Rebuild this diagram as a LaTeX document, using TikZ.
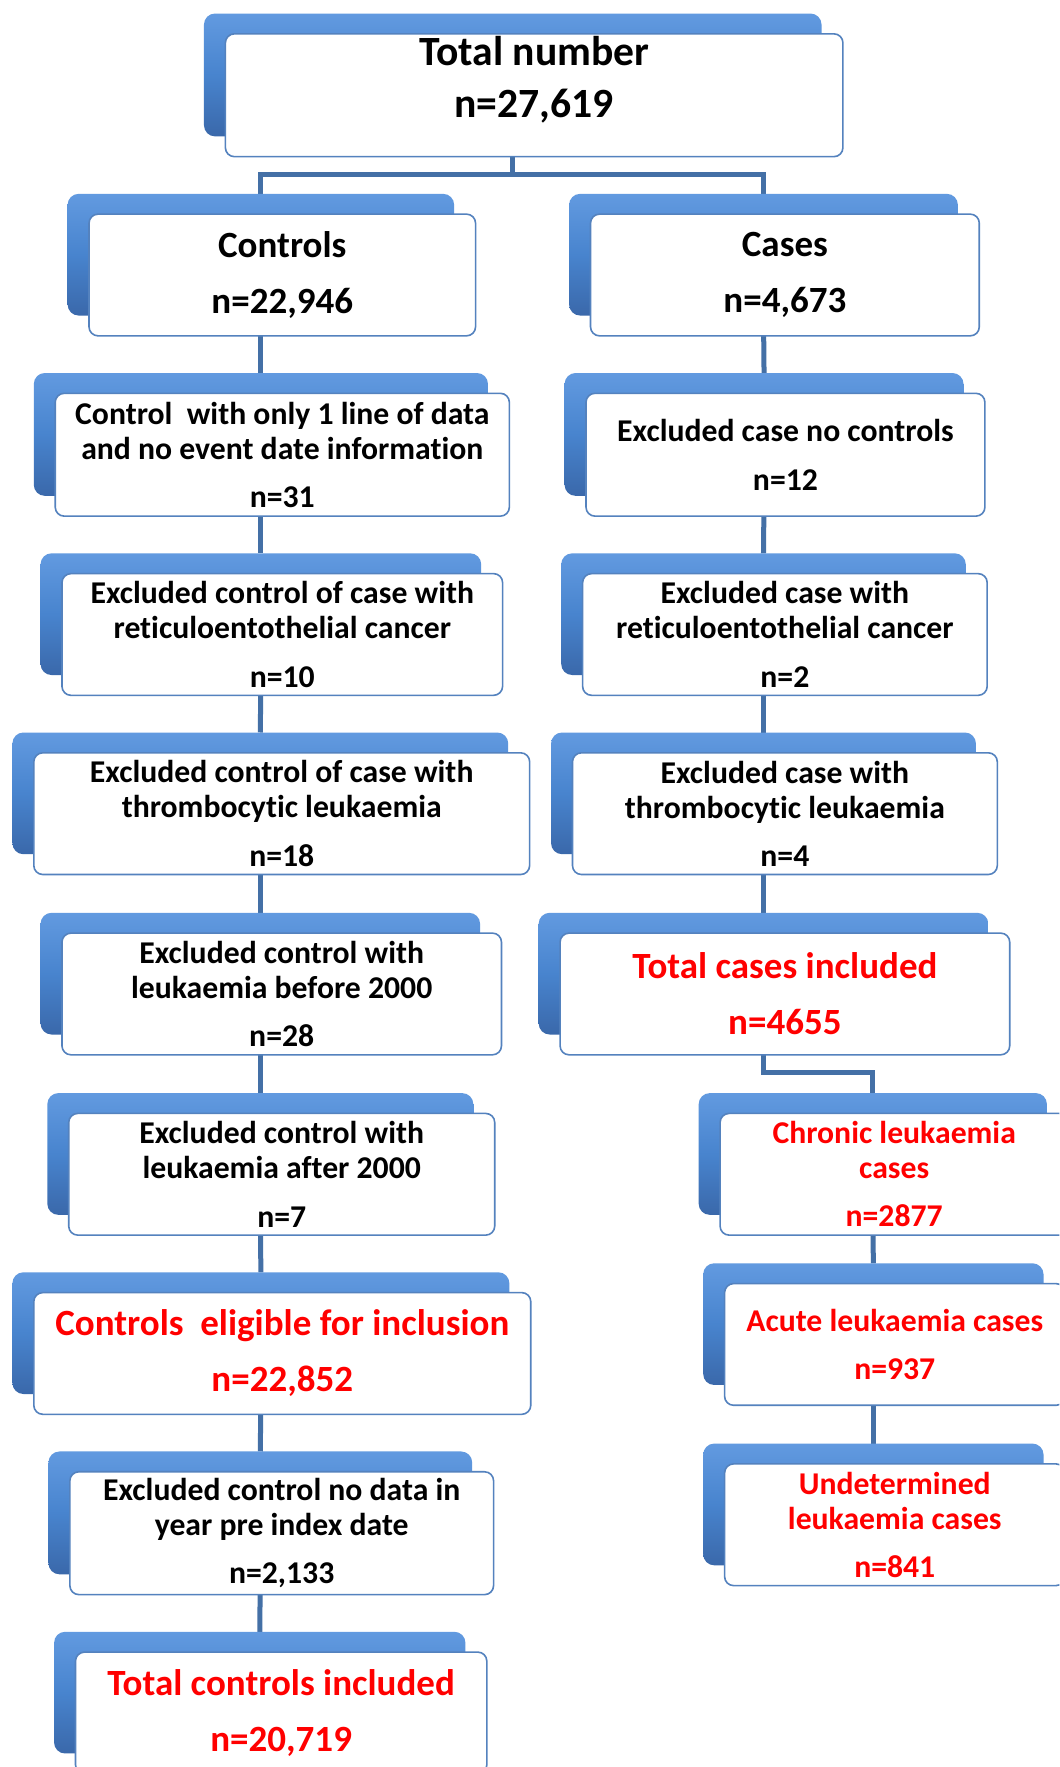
\documentclass[tikz,border=0pt]{standalone}
\usepackage{fontspec}
\setmainfont{Carlito}[Ligatures=NoCommon]
\usetikzlibrary{backgrounds}
\definecolor{conn}{RGB}{68,112,166}
\definecolor{bord}{RGB}{84,130,190}
\definecolor{btop}{RGB}{98,154,224}
\definecolor{bmid}{RGB}{72,132,206}
\definecolor{bbot}{RGB}{58,104,170}
\definecolor{redt}{RGB}{255,0,0}
\tikzset{
  backbox/.style={rounded corners=11pt, top color=btop, bottom color=bbot, middle color=bmid, draw=none, inner sep=0pt, outer sep=0pt},
  frontbox/.style={rounded corners=9pt, fill=white, draw=bord, line width=1.6pt, inner sep=0pt, outer sep=0pt},
  titletxt/.style={font=\fontsize{41.6}{52}\selectfont\bfseries, align=center, inner sep=0pt},
  smalltxt/.style={font=\fontsize{31.7}{35}\selectfont\bfseries, align=center, inner sep=0pt},
  bigtxt/.style={font=\fontsize{37}{44}\selectfont\bfseries, align=center, inner sep=0pt},
  redsmall/.style={smalltxt, text=redt},
  redbig/.style={bigtxt, text=redt},
  connector/.style={draw=conn, line width=5pt}
}
% [text shift]{name}{x1}{y1}{x2}{y2}{text style}{text}
\newcommand\mkbox[8][0]{%
  \node[backbox, minimum width={(#5-#3)*1.1266pt}, minimum height={(#6-#4)*1.1266pt}] (#2-back) at ({(#3+#5)/2},{(#4+#6)/2}) {};
  \node[frontbox, minimum width={(#5-#3)*1.1266pt}, minimum height={(#6-#4)*1.1266pt}] (#2) at ([xshift=21.4pt, yshift=-20.3pt]#2-back.center) {};
  \node[#7] (#2-text) at ([yshift=#1*1.1266pt]#2.center) {#8};
}
\begin{document}
\begin{tikzpicture}[x=1.1266pt, y=-1.1266pt]
\useasboundingbox (0,0) rectangle (940,1568);
\clip (0,0) rectangle (940,1568);

\mkbox[14]{top}{181}{12}{729}{121}{titletxt}{Total number\\n=27,619}
\mkbox{ctrl}{60}{172}{403}{280}{bigtxt}{Controls\\[12pt]n=22,946}
\mkbox{cases}{505}{172}{850}{280}{bigtxt}{Cases\\[12pt]n=4,673}

\mkbox{c2}{30}{331}{433}{440}{smalltxt}{Control~ with only 1 line of data\\and no event date information\\[13.4pt]n=31}
\mkbox{k2}{501}{331}{855}{440}{smalltxt}{Excluded case no controls\\[13.4pt]n=12}

\mkbox{c3}{36}{491}{427}{599}{smalltxt}{Excluded control of case with\\reticuloentothelial cancer\\[13.4pt]n=10}
\mkbox{k3}{498}{491}{857}{599}{smalltxt}{Excluded case with\\reticuloentothelial cancer\\[13.4pt]n=2}

\mkbox{c4}{11}{650}{451}{758}{smalltxt}{Excluded control of case with\\thrombocytic leukaemia\\[13.4pt]n=18}
\mkbox{k4}{489}{650}{866}{758}{smalltxt}{Excluded case with\\thrombocytic leukaemia\\[13.4pt]n=4}

\mkbox{c5}{36}{810}{426}{918}{smalltxt}{Excluded control with\\leukaemia before 2000\\[13.4pt]n=28}
\mkbox{k5}{478}{810}{877}{918}{redbig}{Total cases included\\[12pt]n=4655}

\mkbox{c6}{42}{970}{420}{1078}{smalltxt}{Excluded control with\\leukaemia after 2000\\[13.4pt]n=7}
\mkbox{chron}{620}{970}{929}{1078}{redsmall}{Chronic leukaemia\\cases\\[13.4pt]n=2877}

\mkbox{c7}{11}{1129}{452}{1237}{redbig}{Controls~ eligible for inclusion\\[12pt]n=22,852}
\mkbox{acute}{624}{1121}{926}{1229}{redsmall}{Acute leukaemia cases\\[13.4pt]n=937}

\mkbox{c8}{43}{1288}{419}{1397}{smalltxt}{Excluded control no data in\\year pre index date\\[13.4pt]n=2,133}
\mkbox{undet}{624}{1281}{926}{1389}{redsmall}{Undetermined\\leukaemia cases\\[13.4pt]n=841}

\mkbox{c9}{48}{1448}{413}{1556}{redbig}{Total controls included\\[12pt]n=20,719}

\coordinate (split) at (455,155);
\coordinate (split2) at (774.5,952);
\begin{pgfonlayer}{background}
  \fill[white] (0,0) rectangle (940,1568);
  \draw[connector] (top-back.south) -- (split);
  \draw[connector] (ctrl-back.north) |- (split) -| (cases-back.north);
  \draw[connector] (ctrl-back.south) -- (c2-back.north);
  \draw[connector] (c2-back.south) -- (c3-back.north);
  \draw[connector] (c3-back.south) -- (c4-back.north);
  \draw[connector] (c4-back.south) -- (c5-back.north);
  \draw[connector] (c5-back.south) -- (c6-back.north);
  \draw[connector] (c6-back.south) -- (c7-back.north);
  \draw[connector] (c7-back.south) -- (c8-back.north);
  \draw[connector] (c8-back.south) -- (c9-back.north);
  \draw[connector] (cases-back.south) -- (k2-back.north);
  \draw[connector] (k2-back.south) -- (k3-back.north);
  \draw[connector] (k3-back.south) -- (k4-back.north);
  \draw[connector] (k4-back.south) -- (k5-back.north);
  \draw[connector] (k5-back.south) |- (split2) -- (chron-back.north);
  \draw[connector] (chron-back.south) -- (acute-back.north);
  \draw[connector] (acute-back.south) -- (undet-back.north);
\end{pgfonlayer}
\end{tikzpicture}
\end{document}
